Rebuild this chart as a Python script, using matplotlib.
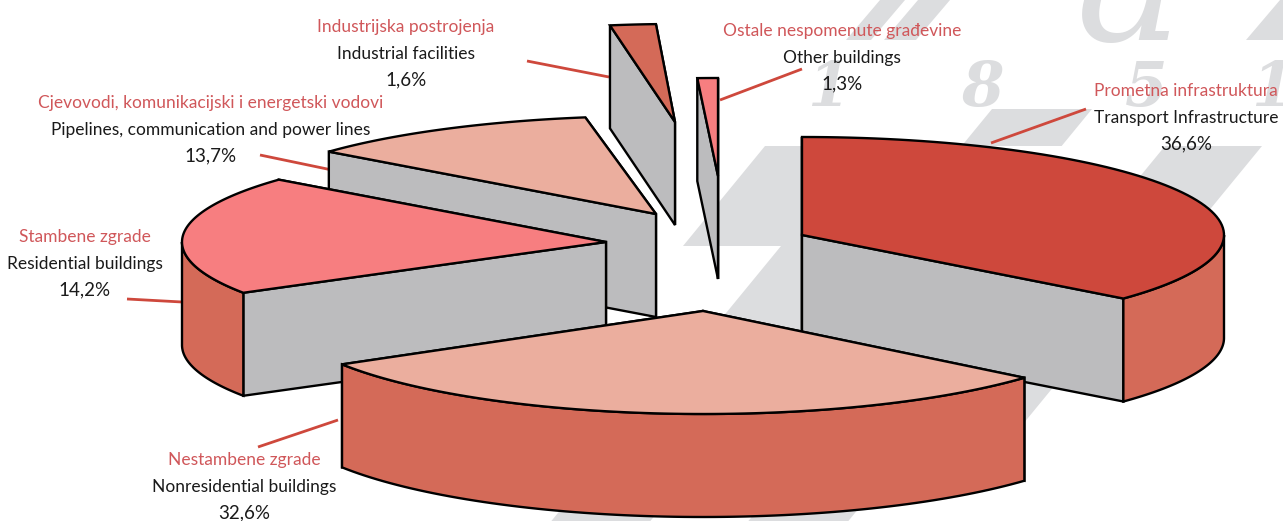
import matplotlib
matplotlib.use('Agg')
import matplotlib.pyplot as plt
from matplotlib.patches import Polygon
import numpy as np

plt.rcParams['font.family'] = ['Lato', 'DejaVu Sans']

# data
names_hr = ['Prometna infrastruktura', 'Nestambene zgrade', 'Stambene zgrade',
            'Cjevovodi, komunikacijski i energetski vodovi', 'Industrijska postrojenja',
            'Ostale nespomenute građevine']
names_en = ['Transport Infrastructure', 'Nonresidential buildings', 'Residential buildings',
            'Pipelines, communication and power lines', 'Industrial facilities', 'Other buildings']
shares = [36.6, 32.6, 14.2, 13.7, 1.6, 1.3]
# the slices are not drawn to scale in the original, these are the spans as drawn (degrees)
drawn_spans = [130.4, 108.4, 70.7, 40.9, 6.8, 2.8]

# exploded slice positions and radii (pixels)
apex_x = [802, 703, 606, 656, 675, 718]
apex_y = [235, 311, 242, 214, 122, 176]
radius_x = [422, 422, 424, 424, 390, 424]
radius_y = [98, 103, 98, 98, 98, 98]
top_colors = ['#CE483C', '#EBAE9E', '#F77E80', '#EBAE9E', '#D46A58', '#F77E80']
draw_order = [4, 5, 3, 2, 0, 1]

label_x = [1186, 244, 85, 211, 406, 842]
label_y = [91, 460, 237, 103, 27, 31]
leader_x = [(991, 1086), (258, 338), (127, 182), (260, 332), (527, 609), (720, 802)]
leader_y = [(143, 109), (447, 420), (299, 302), (155, 170), (61, 77), (100, 69)]

DEPTH = 103
RED = '#CE483C'
SIDE = '#D46A58'
GRAY = '#BCBCBE'
BACK = '#DCDDDF'


def arc(cx, cy, rx, ry, a0, a1):
    t = np.radians(np.linspace(a0, a1, 80))
    return np.column_stack([cx + rx * np.cos(t), cy - ry * np.sin(t)])


def slanted(ax, y0, y1, x0, x1, slope=0.82):
    # slanted background block, x0/x1 are taken at y0
    d = (y1 - y0) * slope
    ax.add_patch(Polygon([(x0, y0), (x1, y0), (x1 - d, y1), (x0 - d, y1)],
                         fc=BACK, ec='none', zorder=1))


fig = plt.figure(figsize=(12.83, 5.21), dpi=100)
ax = fig.add_axes([0, 0, 1, 1])
ax.set_xlim(0, 1283)
ax.set_ylim(521, 0)
ax.axis('off')

# watermark in the background
slanted(ax, 146, 246, 765, 900)
slanted(ax, 246, 346, 781, 880)
slanted(ax, 109, 146, 992, 1092)
slanted(ax, 146, 246, 1165, 1262)
slanted(ax, 346, 446, 950, 1087)
slanted(ax, 480, 521, 585, 684)
slanted(ax, 480, 521, 782, 882)
slanted(ax, 0, 40, 918, 950, 0.85)
slanted(ax, 0, 40, 880, 905, 0.85)
slanted(ax, 0, 40, 1280, 1340, 0.85)
for x, s in zip([828, 982, 1146, 1272], ['1', '8', '5', '1']):
    ax.text(x, 106, s, color=BACK, fontsize=44, family='DejaVu Serif', style='italic',
            weight='bold', ha='center', va='baseline', zorder=1)
ax.text(1130, 40, 'a', color=BACK, fontsize=130, family='DejaVu Serif', style='italic',
        ha='center', va='baseline', zorder=1)

# leader lines
for lx, ly in zip(leader_x, leader_y):
    ax.plot(lx, ly, color=RED, lw=2, solid_capstyle='butt', zorder=2)

# slices, back to front
starts = 90 - np.concatenate([[0], np.cumsum(drawn_spans)[:-1]])
z = 3
for i in draw_order:
    a0, a1 = starts[i], starts[i] - drawn_spans[i]
    cx, cy, rx, ry = apex_x[i], apex_y[i], radius_x[i], radius_y[i]
    rim = arc(cx, cy, rx, ry, a0, a1)
    style = dict(ec='black', lw=1.7, joinstyle='miter')

    # radial walls, the one further back goes first
    ends = sorted([rim[0], rim[-1]], key=lambda p: p[1])
    for p in ends:
        wall = [(cx, cy), tuple(p), (p[0], p[1] + DEPTH), (cx, cy + DEPTH)]
        ax.add_patch(Polygon(wall, fc=GRAY, zorder=z, **style))
        z += 1

    # outer wall, only the part facing the viewer
    lo, hi = max(a1, -180), min(a0, 0)
    if hi > lo:
        front = arc(cx, cy, rx, ry, hi, lo)
        outline = np.vstack([front, front[::-1] + [0, DEPTH]])
        ax.add_patch(Polygon(outline, fc=SIDE, zorder=z, **style))
        z += 1

    # top
    top = np.vstack([[[cx, cy]], rim])
    ax.add_patch(Polygon(top, fc=top_colors[i], zorder=z, **style))
    z += 1

# labels
for i in range(len(shares)):
    pct = f'{shares[i]:.1f}%'.replace('.', ',')
    ax.text(label_x[i], label_y[i], names_hr[i], color='#D0575A', fontsize=12.5, ha='center',
            va='center', zorder=100)
    ax.text(label_x[i], label_y[i] + 27, names_en[i], color='#1A1A1A', fontsize=12.5, ha='center',
            va='center', zorder=100)
    ax.text(label_x[i], label_y[i] + 53, pct, color='#1A1A1A', fontsize=13.5, ha='center',
            va='center', zorder=100)

fig.savefig('out.png', dpi=100)
